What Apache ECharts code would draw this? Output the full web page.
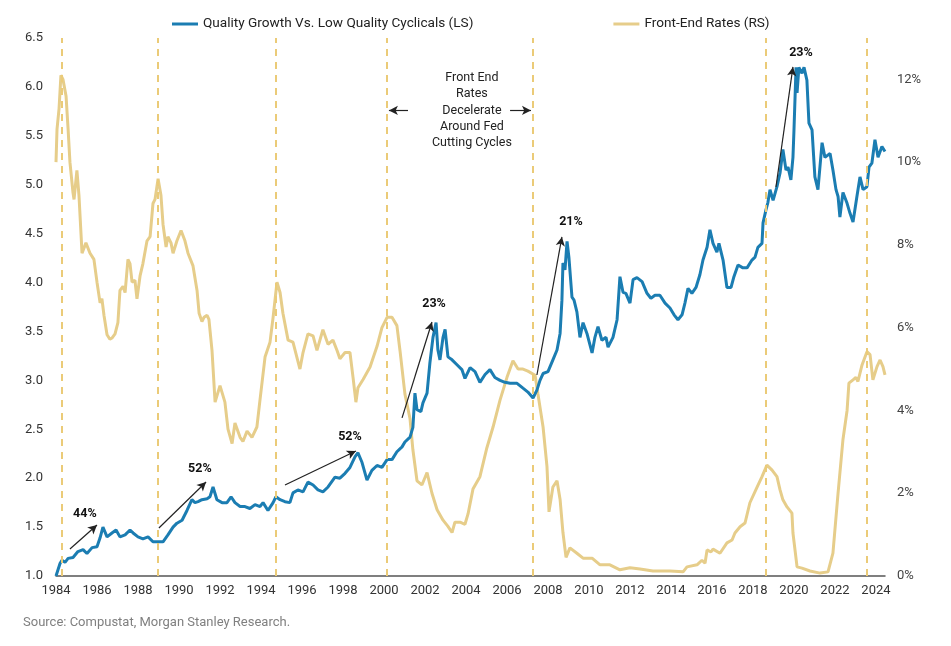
<!DOCTYPE html>
<html>
<head>
<meta charset="utf-8">
<script src="https://cdn.jsdelivr.net/npm/echarts@6/dist/echarts.min.js"></script>
<style>
html,body{margin:0;padding:0;background:#fff;}
#chart{width:951px;height:646px;}
</style>
</head>
<body>
<div id="chart"></div>
<script>
var seriesNames = ['Quality Growth Vs. Low Quality Cyclicals (LS)', 'Front-End Rates (RS)'];

var qualityYears = [1984.00,1984.20,1984.29,1984.44,1984.59,1984.83,1985.07,1985.32,1985.51,1985.76,1986.00,1986.15,1986.29,1986.49,1986.73,1986.93,1987.12,1987.37,1987.61,1987.76,1988.00,1988.24,1988.49,1988.73,1988.98,1989.22,1989.46,1989.71,1989.90,1990.15,1990.39,1990.63,1990.78,1990.93,1991.12,1991.37,1991.51,1991.66,1991.85,1992.10,1992.34,1992.54,1992.73,1992.98,1993.22,1993.46,1993.71,1993.95,1994.10,1994.34,1994.59,1994.73,1994.93,1995.17,1995.41,1995.56,1995.80,1996.05,1996.29,1996.54,1996.78,1997.02,1997.27,1997.61,1997.85,1998.10,1998.34,1998.59,1998.73,1998.93,1999.17,1999.41,1999.66,1999.90,2000.15,2000.39,2000.63,2000.88,2001.02,2001.27,2001.41,2001.51,2001.61,2001.80,2001.90,2002.10,2002.24,2002.39,2002.54,2002.63,2002.73,2002.88,2002.98,2003.12,2003.32,2003.56,2003.80,2003.95,2004.20,2004.44,2004.68,2004.93,2005.17,2005.41,2005.66,2005.90,2006.15,2006.49,2006.78,2007.02,2007.27,2007.46,2007.61,2007.76,2008.00,2008.24,2008.44,2008.59,2008.68,2008.73,2008.83,2008.93,2009.02,2009.17,2009.27,2009.41,2009.56,2009.71,2009.90,2010.15,2010.29,2010.44,2010.63,2010.83,2010.93,2011.17,2011.37,2011.51,2011.66,2011.80,2012.00,2012.15,2012.34,2012.59,2012.83,2013.02,2013.22,2013.46,2013.71,2013.95,2014.15,2014.34,2014.54,2014.68,2014.83,2015.02,2015.22,2015.41,2015.56,2015.76,2015.90,2016.05,2016.24,2016.34,2016.54,2016.73,2016.93,2017.07,2017.27,2017.51,2017.71,2017.95,2018.10,2018.24,2018.44,2018.49,2018.63,2018.73,2018.83,2018.98,2019.17,2019.32,2019.46,2019.61,2019.71,2019.85,2019.95,2020.00,2020.10,2020.15,2020.24,2020.39,2020.49,2020.63,2020.73,2020.88,2021.02,2021.17,2021.37,2021.51,2021.76,2021.90,2022.05,2022.15,2022.24,2022.39,2022.59,2022.73,2022.88,2023.07,2023.22,2023.37,2023.56,2023.66,2023.80,2023.95,2024.10,2024.29,2024.44];
var qualityValues = [1.00,1.13,1.16,1.14,1.18,1.19,1.25,1.27,1.23,1.29,1.30,1.39,1.50,1.40,1.44,1.47,1.40,1.42,1.47,1.44,1.40,1.38,1.40,1.35,1.35,1.35,1.42,1.50,1.54,1.57,1.67,1.78,1.75,1.76,1.78,1.79,1.81,1.91,1.78,1.75,1.75,1.81,1.75,1.71,1.71,1.69,1.73,1.71,1.75,1.67,1.75,1.81,1.78,1.76,1.75,1.85,1.88,1.86,1.96,1.93,1.88,1.86,1.91,2.01,2.00,2.05,2.11,2.22,2.26,2.16,1.98,2.08,2.13,2.11,2.19,2.19,2.27,2.32,2.37,2.42,2.52,2.87,2.70,2.68,2.77,2.87,3.18,3.44,3.59,3.31,3.21,3.44,3.52,3.24,3.21,3.16,3.11,3.02,3.13,3.09,2.98,3.06,3.11,3.03,3.00,2.98,2.97,2.97,2.92,2.88,2.82,2.90,3.00,3.07,3.09,3.21,3.31,3.48,3.82,4.20,4.13,4.42,4.26,3.85,3.82,3.70,3.44,3.59,3.48,3.28,3.44,3.55,3.41,3.44,3.34,3.44,3.62,4.06,3.90,3.89,3.79,4.03,4.05,4.01,3.89,3.84,3.87,3.87,3.79,3.74,3.67,3.62,3.67,3.79,3.94,3.89,3.95,4.08,4.23,4.36,4.54,4.40,4.31,4.40,4.23,3.95,3.95,4.06,4.18,4.15,4.15,4.23,4.26,4.36,4.40,4.61,4.74,4.82,4.95,4.84,4.98,5.12,5.36,5.15,5.18,5.05,5.28,5.56,6.20,5.94,6.20,6.14,6.20,6.07,5.63,5.56,5.08,4.95,5.43,5.28,5.32,5.15,4.95,4.88,4.67,4.92,4.81,4.71,4.62,4.88,5.08,4.95,4.98,5.18,5.22,5.46,5.28,5.39,5.34];

var rateYears = [1984.00,1984.05,1984.15,1984.24,1984.34,1984.49,1984.59,1984.68,1984.83,1984.88,1985.02,1985.12,1985.27,1985.46,1985.66,1985.85,1986.00,1986.15,1986.24,1986.34,1986.49,1986.63,1986.73,1986.88,1987.02,1987.12,1987.27,1987.37,1987.51,1987.61,1987.71,1987.85,1987.95,1988.10,1988.24,1988.44,1988.59,1988.73,1988.83,1988.98,1989.12,1989.22,1989.37,1989.46,1989.61,1989.71,1989.90,1990.10,1990.29,1990.44,1990.68,1990.88,1990.98,1991.12,1991.22,1991.37,1991.46,1991.61,1991.76,1992.00,1992.24,1992.39,1992.59,1992.73,1992.98,1993.12,1993.32,1993.56,1993.80,1993.95,1994.20,1994.44,1994.59,1994.78,1994.93,1995.07,1995.32,1995.56,1995.90,1996.05,1996.29,1996.54,1996.73,1997.02,1997.27,1997.51,1997.71,1997.85,1998.10,1998.34,1998.49,1998.63,1998.73,1998.98,1999.32,1999.66,1999.90,2000.15,2000.39,2000.63,2000.78,2001.02,2001.27,2001.41,2001.61,2001.85,2002.10,2002.34,2002.59,2002.88,2003.12,2003.32,2003.46,2003.71,2003.95,2004.10,2004.34,2004.68,2005.02,2005.32,2005.66,2006.00,2006.29,2006.54,2006.78,2007.02,2007.37,2007.51,2007.76,2007.95,2008.05,2008.24,2008.44,2008.59,2008.73,2008.88,2009.07,2009.41,2009.71,2010.15,2010.54,2011.02,2011.51,2012.00,2012.49,2013.12,2013.95,2014.59,2014.78,2015.27,2015.51,2015.66,2015.76,2015.95,2016.05,2016.39,2016.73,2016.98,2017.12,2017.37,2017.61,2017.85,2018.20,2018.44,2018.68,2018.93,2019.17,2019.32,2019.46,2019.66,2019.90,2019.95,2020.15,2020.39,2020.78,2021.27,2021.66,2021.90,2022.15,2022.39,2022.59,2022.68,2022.88,2023.02,2023.12,2023.32,2023.56,2023.71,2023.85,2024.05,2024.20,2024.34,2024.44];
var rateValues = [10.0,10.8,11.3,12.1,12.0,11.6,10.8,10.0,9.26,9.1,9.8,9.2,7.8,8.05,7.8,7.65,7.1,6.6,6.7,6.3,5.83,5.72,5.75,5.85,6.12,6.9,7.0,6.85,7.65,7.55,7.1,7.15,6.7,7.25,7.55,8.1,8.2,9.0,9.1,9.6,9.2,8.5,7.95,8.2,8.05,7.8,8.1,8.35,8.1,7.8,7.5,6.9,6.35,6.15,6.25,6.3,6.2,5.45,4.2,4.6,4.2,3.55,3.2,3.7,3.35,3.25,3.5,3.35,3.6,4.25,5.3,5.65,6.25,7.1,6.85,6.35,5.7,5.65,5.0,5.4,5.85,5.8,5.45,5.95,5.6,5.7,5.45,5.25,5.4,5.4,4.8,4.2,4.55,4.75,5.05,5.55,6.0,6.25,6.25,6.05,5.45,4.4,3.8,3.05,2.3,2.2,2.5,2.0,1.6,1.35,1.2,1.05,1.3,1.3,1.25,1.5,2.1,2.4,3.1,3.6,4.25,4.8,5.2,5.0,5.0,4.95,4.85,4.4,3.6,2.65,1.55,2.15,2.3,1.85,1.05,0.45,0.68,0.55,0.43,0.43,0.27,0.27,0.15,0.2,0.17,0.12,0.12,0.1,0.22,0.27,0.38,0.31,0.63,0.58,0.65,0.55,0.8,0.87,1.04,1.19,1.28,1.77,2.15,2.4,2.68,2.56,2.4,2.08,1.84,1.67,1.52,1.04,0.22,0.19,0.12,0.07,0.1,0.55,2.0,3.3,4.0,4.66,4.74,4.8,4.7,5.1,5.42,5.35,4.74,5.06,5.22,5.06,4.86];

var cycleYears = [1984.29, 1988.98, 1994.73, 2000.15, 2007.27, 2018.63, 2023.56];

var gainLabels = ['44%', '52%', '52%', '23%', '21%', '23%'];
var gainLabelYears = [1985.41, 1991.02, 1998.34, 2002.44, 2009.12, 2020.34];
var gainLabelValues = [1.634, 2.094, 2.421, 3.781, 4.620, 6.348];
var arrowStartYears = [1984.68, 1989.02, 1995.17, 2000.88, 2007.46, 2019.12];
var arrowStartValues = [1.276, 1.491, 1.930, 2.616, 3.055, 4.977];
var arrowEndYears = [1986.00, 1991.32, 1998.63, 2002.34, 2008.68, 2019.95];
var arrowEndValues = [1.521, 1.961, 2.278, 3.597, 4.466, 6.204];

var noteText = 'Front End\nRates\nDecelerate\nAround Fed\nCutting Cycles';
var notePos = [2004.29, 5.76];
var noteArrows = [[[2001.17, 5.76], [2000.24, 5.76]], [[2006.15, 5.76], [2007.17, 5.76]]];

var sourceText = 'Source: Compustat, Morgan Stanley Research.';

var BLUE = '#1b7db2';
var GOLD = '#e6cd8a';
var DASH = '#ebcb78';
var FONT = 'Roboto, "Noto Sans", Arial, sans-serif';

function zip(a, b) { return a.map(function (v, i) { return [v, b[i]]; }); }

var arrowData = arrowStartYears.map(function (y, i) {
  return [{ coord: [y, arrowStartValues[i]] }, { coord: [arrowEndYears[i], arrowEndValues[i]] }];
});
noteArrows.forEach(function (a) {
  arrowData.push([{ coord: a[0] }, { coord: a[1] }]);
});

var labelPoints = gainLabels.map(function (t, i) {
  return {
    coord: [gainLabelYears[i], gainLabelValues[i]],
    label: { formatter: t, fontWeight: 'bold', fontSize: 12.5, color: '#111' }
  };
});
labelPoints.push({
  coord: notePos,
  label: { formatter: noteText, fontSize: 12.5, lineHeight: 16.3, color: '#222', align: 'center' }
});

var chart = echarts.init(document.getElementById('chart'), null, { renderer: 'canvas' });
chart.setOption({
  animation: false,
  textStyle: { fontFamily: FONT },
  grid: { left: 56, right: 66, top: 38, bottom: 70 },
  legend: {
    data: seriesNames,
    left: 167, top: 12,
    icon: 'rect', itemWidth: 26, itemHeight: 3, itemGap: 140,
    textStyle: { fontSize: 13.6, color: '#222', fontFamily: FONT }
  },
  xAxis: {
    type: 'value', min: 1984, max: 2024.44, interval: 2,
    axisLine: { show: true, lineStyle: { color: '#555', width: 1.5 } },
    axisTick: { show: false },
    splitLine: { show: false },
    axisLabel: {
      fontSize: 13, color: '#333', margin: 8,
      showMaxLabel: false,
      formatter: function (v) { return (Math.abs(v - Math.round(v)) < 1e-6 && Math.round(v) % 2 === 0) ? String(Math.round(v)) : ''; }
    }
  },
  yAxis: [{
    type: 'value', min: 1, max: 6.5, interval: 0.5,
    axisLine: { show: false }, axisTick: { show: false }, splitLine: { show: false },
    axisLabel: { fontSize: 13, color: '#333', margin: 13, formatter: function (v) { return v.toFixed(1); } }
  }, {
    type: 'value', min: 0, max: 13, interval: 2,
    axisLine: { show: false }, axisTick: { show: false }, splitLine: { show: false },
    axisLabel: { fontSize: 13, color: '#444', margin: 12,
      formatter: function (v) { return (Math.round(v) % 2 === 0 && v < 12.5) ? v + '%' : ''; } }
  }],
  series: [{
    name: seriesNames[1], type: 'line', yAxisIndex: 1, z: 2,
    data: zip(rateYears, rateValues),
    showSymbol: false, symbol: 'none',
    lineStyle: { color: GOLD, width: 3 }, itemStyle: { color: GOLD },
    markLine: {
      silent: true, symbol: ['none', 'none'], label: { show: false },
      lineStyle: { color: DASH, width: 2, type: [7, 6] },
      data: cycleYears.map(function (y) { return { xAxis: y }; })
    }
  }, {
    name: seriesNames[0], type: 'line', yAxisIndex: 0, z: 3,
    data: zip(qualityYears, qualityValues),
    showSymbol: false, symbol: 'none',
    lineStyle: { color: BLUE, width: 3 }, itemStyle: { color: BLUE },
    markLine: {
      silent: true, symbol: ['none', 'arrow'], symbolSize: [7, 9], label: { show: false },
      lineStyle: { color: '#222', width: 1.2, type: 'solid' },
      data: arrowData
    },
    markPoint: {
      silent: true, symbol: 'circle', symbolSize: 0,
      label: { show: true, position: 'inside', fontFamily: FONT },
      data: labelPoints
    }
  }],
  graphic: [{
    type: 'text', left: 23, top: 616,
    style: { text: sourceText, font: '13px ' + FONT, fill: '#808080' }
  }]
});
</script>
</body>
</html>
